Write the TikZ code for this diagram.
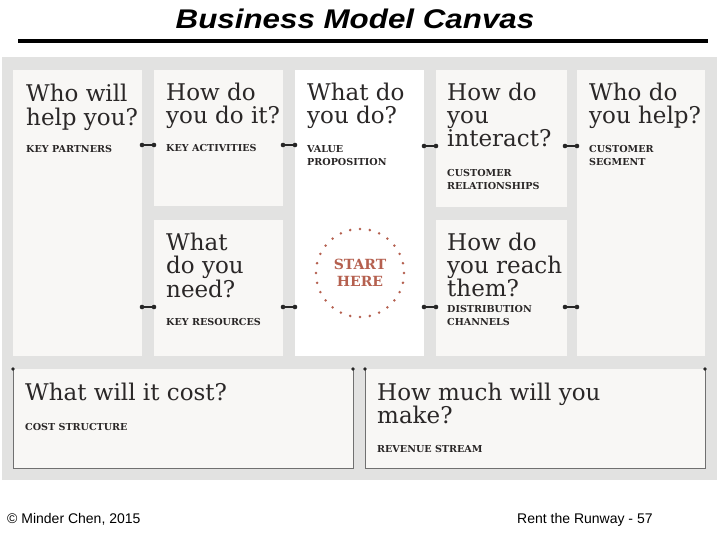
\documentclass[tikz,border=0pt]{standalone}
\usepackage{fontspec}
\setmainfont{DejaVu Serif}
\newfontfamily\titlefont{Liberation Sans}
\definecolor{panelgray}{HTML}{E2E2E1}
\definecolor{boxfill}{HTML}{F8F7F5}
\definecolor{qcol}{HTML}{2A2727}
\definecolor{startcol}{HTML}{B5604F}
\definecolor{edgecol}{HTML}{707070}
\tikzset{
  cbox/.style={fill=boxfill, draw=none},
  q/.style={anchor=base west, inner sep=0pt, text=qcol, font=\fontsize{23}{24}\selectfont},
  lab/.style={anchor=base west, inner sep=0pt, text=qcol, font=\bfseries\fontsize{9.6}{10}\selectfont},
  dumbbell/.style={line width=1.2pt, draw=black!85},
  dbdot/.style={fill=black!85},
  foot/.style={anchor=base west, inner sep=0pt, font=\titlefont\fontsize{14}{14}\selectfont},
  edge/.style={draw=edgecol, line width=0.9pt},
}
\begin{document}
\begin{tikzpicture}[x=1pt,y=-1pt]
\useasboundingbox (0,0) rectangle (720,540);
\fill[white] (0,0) rectangle (720,540);
% title
\node[inner sep=0pt, anchor=base, font=\titlefont\bfseries\itshape\fontsize{27}{27}\selectfont] (title) at (355,29) {\scalebox{1.16}[1]{Business Model Canvas}};
\coordinate (tl) at (18,41);
\coordinate (tr) at (708,41);
\draw[line width=4pt] (tl) -- (tr);
% panel
\fill[panelgray] (2,57) rectangle (717,480);
% boxes
\fill[cbox] (13,70) rectangle (142,356);
\fill[cbox] (154,70) rectangle (283,206);
\fill[white] (295,70) rectangle (424,356);
\fill[cbox] (436,70) rectangle (567,207);
\fill[cbox] (577,70) rectangle (705,356);
\fill[cbox] (154,220) rectangle (283,356);
\fill[cbox] (436,220) rectangle (567,356);
\fill[cbox] (13,369) rectangle (353,468);
\fill[cbox] (365,369) rectangle (705,468);
% bottom box edges
\draw[edge] (13,369) -- (13,468) -- (353,468) -- (353,369);
\draw[edge] (365,369) -- (365,468) -- (705,468) -- (705,369);
\foreach \x in {13,353,365,705} \fill[black!85] (\x,369) circle (1.8);
% key partners
\node[q] (kp1) at (26,102) {Who will};
\node[q] (kp2) at (26,126) {help you?};
\node[lab] (kp3) at (26,153) {KEY PARTNERS};
% key activities
\node[q] (ka1) at (166,101) {How do};
\node[q] (ka2) at (166,124) {you do it?};
\node[lab] (ka3) at (166,152) {KEY ACTIVITIES};
% value proposition
\node[q] (vp1) at (307,101) {What do};
\node[q] (vp2) at (307,124) {you do?};
\node[lab] (vp3) at (307,153) {VALUE};
\node[lab] (vp4) at (307,166) {PROPOSITION};
% customer relationships
\node[q] (cr1) at (447,101) {How do};
\node[q] (cr2) at (447,124) {you};
\node[q] (cr3) at (447,147) {interact?};
\node[lab] (cr4) at (447,177) {CUSTOMER};
\node[lab] (cr5) at (447,190) {RELATIONSHIPS};
% customer segment
\node[q] (cs1) at (589,101) {Who do};
\node[q] (cs2) at (589,124) {you help?};
\node[lab] (cs3) at (589,153) {CUSTOMER};
\node[lab] (cs4) at (589,166) {SEGMENT};
% key resources
\node[q] (kr1) at (166,250) {What};
\node[q] (kr2) at (166,273) {do you};
\node[q] (kr3) at (166,297) {need?};
\node[lab] (kr4) at (166,325) {KEY RESOURCES};
% distribution channels
\node[q] (dc1) at (447,250) {How do};
\node[q] (dc2) at (447,273) {you reach};
\node[q] (dc3) at (447,296) {them?};
\node[lab] (dc4) at (447,312) {DISTRIBUTION};
\node[lab] (dc5) at (447,325) {CHANNELS};
% cost / revenue
\node[q] (co1) at (25,400) {What will it cost?};
\node[lab] (co2) at (25,430) {COST STRUCTURE};
\node[q] (rv1) at (377,400) {How much will you};
\node[q] (rv2) at (377,423) {make?};
\node[lab] (rv3) at (377,452) {REVENUE STREAM};
% start here
\node[circle, minimum size=88pt, inner sep=0pt] (start) at (360,273) {};
\foreach \a in {0,12.857,...,359} \fill[startcol] (start.center) ++(\a:44) circle (1.4);
\node[inner sep=0pt, align=center, text=startcol, font=\bfseries\fontsize{14}{17}\selectfont] (starttxt) at (360,273) {START\\HERE};
% connectors
\foreach \n/\x/\y in {a/148/145, b/289/145, c/430/146, d/571/146, e/148/307, f/289/307, g/430/307, h/571/307} {
  \coordinate (\n1) at (\x-6,\y);
  \coordinate (\n2) at (\x+6,\y);
  \draw[dumbbell] (\n1) -- (\n2);
  \fill[dbdot] (\n1) circle (2.3);
  \fill[dbdot] (\n2) circle (2.3);
}
% footer
\node[foot] (f1) at (7,523) {© Minder Chen, 2015};
\node[foot] (f2) at (517,523) {Rent the Runway - 57};
\end{tikzpicture}
\end{document}
